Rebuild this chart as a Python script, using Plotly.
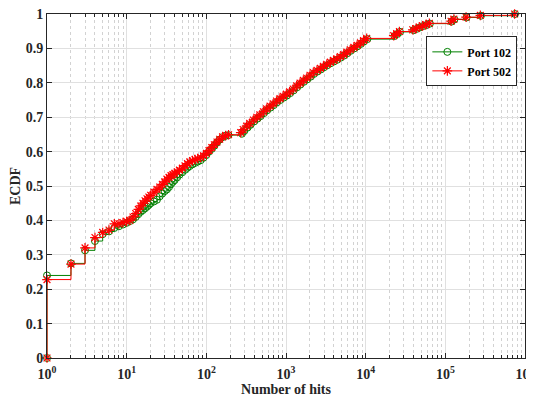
import plotly.graph_objects as go

# Port 102 ECDF (hits, ecdf)
port102_hits = [1, 1, 2, 3, 4, 5, 6, 7, 8, 9, 10, 11, 12, 13, 14, 15, 16, 17, 18, 19, 20,
                22, 24, 26, 28, 30, 32, 34, 36, 38, 40, 43, 46, 50, 54, 58, 62, 67, 72, 78,
                85, 92, 100, 108, 117, 126, 136, 147, 160, 175, 190, 280, 300, 330, 360,
                400, 440, 480, 530, 580, 640, 700, 770, 850, 940, 1030, 1130, 1250, 1380,
                1520, 1680, 1850, 2050, 2250, 2500, 2750, 3000, 3300, 3650, 4000, 4400,
                4850, 5350, 5900, 6500, 7200, 7900, 8700, 9500, 10500, 23000, 25000, 27000,
                40000, 44000, 48000, 53000, 58000, 64000, 120000, 130000, 185000, 280000,
                750000]
port102_ecdf = [0, 0.24, 0.275, 0.313, 0.34, 0.36, 0.368, 0.378, 0.383, 0.388, 0.393, 0.398,
                0.403, 0.41, 0.418, 0.425, 0.43, 0.435, 0.44, 0.445, 0.45, 0.455, 0.46, 0.47,
                0.478, 0.485, 0.49, 0.497, 0.505, 0.512, 0.517, 0.525, 0.533, 0.54, 0.547,
                0.553, 0.558, 0.563, 0.567, 0.571, 0.575, 0.582, 0.59, 0.6, 0.608, 0.617,
                0.626, 0.635, 0.642, 0.646, 0.648, 0.652, 0.66, 0.67, 0.678, 0.688, 0.696,
                0.703, 0.712, 0.72, 0.728, 0.735, 0.743, 0.75, 0.757, 0.763, 0.77, 0.778,
                0.787, 0.795, 0.803, 0.81, 0.818, 0.826, 0.833, 0.839, 0.845, 0.851, 0.857,
                0.862, 0.867, 0.873, 0.879, 0.886, 0.893, 0.9, 0.906, 0.913, 0.92, 0.927,
                0.936, 0.942, 0.948, 0.953, 0.957, 0.961, 0.965, 0.968, 0.972, 0.978, 0.984,
                0.99, 0.995, 1.0]

# Port 502 ECDF (hits, ecdf)
port502_hits = [1, 1, 2, 3, 4, 5, 6, 7, 8, 9, 10, 11, 12, 13, 14, 15, 16, 17, 18, 19, 20,
                22, 24, 26, 28, 30, 32, 34, 36, 38, 40, 43, 46, 50, 54, 58, 62, 67, 72, 78,
                85, 92, 100, 108, 117, 126, 136, 147, 160, 175, 190, 270, 290, 320, 350,
                390, 430, 470, 520, 570, 630, 690, 760, 840, 920, 1010, 1110, 1230, 1360,
                1500, 1650, 1820, 2000, 2200, 2450, 2700, 2950, 3250, 3600, 3950, 4350,
                4800, 5300, 5800, 6400, 7100, 7800, 8600, 9400, 10300, 22500, 24500, 26500,
                39000, 43000, 47000, 52000, 57000, 63000, 118000, 128000, 182000, 275000,
                740000]
port502_ecdf = [0, 0.228, 0.273, 0.32, 0.35, 0.365, 0.372, 0.39, 0.39, 0.394, 0.397, 0.4,
                0.41, 0.42, 0.432, 0.442, 0.45, 0.457, 0.463, 0.468, 0.473, 0.482, 0.49,
                0.497, 0.505, 0.512, 0.52, 0.525, 0.53, 0.533, 0.537, 0.541, 0.546, 0.552,
                0.559, 0.565, 0.57, 0.574, 0.577, 0.58, 0.583, 0.588, 0.595, 0.603, 0.612,
                0.62, 0.628, 0.636, 0.643, 0.647, 0.649, 0.655, 0.664, 0.674, 0.682, 0.692,
                0.7, 0.707, 0.716, 0.724, 0.732, 0.739, 0.747, 0.754, 0.761, 0.767, 0.774,
                0.782, 0.791, 0.799, 0.807, 0.814, 0.822, 0.83, 0.836, 0.842, 0.848, 0.854,
                0.86, 0.865, 0.87, 0.876, 0.882, 0.889, 0.896, 0.903, 0.909, 0.916, 0.923,
                0.929, 0.937, 0.943, 0.949, 0.954, 0.958, 0.962, 0.966, 0.969, 0.973, 0.979,
                0.985, 0.991, 0.996, 1.0]

series_names = ["<b>Port 102</b>", "<b>Port 502</b>"]

x_tickvals = [1, 10, 100, 1000, 10000, 100000, 1000000]
x_ticktext = ["<b>10<sup>0</sup></b>", "<b>10<sup>1</sup></b>", "<b>10<sup>2</sup></b>",
              "<b>10<sup>3</sup></b>", "<b>10<sup>4</sup></b>", "<b>10<sup>5</sup></b>",
              "<b>10<sup>6</sup></b>"]
y_tickvals = [0, 0.1, 0.2, 0.3, 0.4, 0.5, 0.6, 0.7, 0.8, 0.9, 1]
y_ticktext = ["<b>0</b>", "<b>0.1</b>", "<b>0.2</b>", "<b>0.3</b>", "<b>0.4</b>", "<b>0.5</b>",
              "<b>0.6</b>", "<b>0.7</b>", "<b>0.8</b>", "<b>0.9</b>", "<b>1</b>"]

minor_vals = [m * 10 ** d for d in range(6) for m in range(2, 10)]

FONT = "Liberation Serif, Times New Roman, serif"
AX = "#262626"

fig = go.Figure()
fig.add_trace(go.Scatter(
    x=port102_hits, y=port102_ecdf, name=series_names[0], mode="lines+markers",
    cliponaxis=False,
    line=dict(color="#008000", width=1, shape="hv"),
    marker=dict(symbol="circle-open", size=7, color="#008000", line=dict(width=1))))
fig.add_trace(go.Scatter(
    x=port502_hits, y=port502_ecdf, name=series_names[1], mode="lines+markers",
    cliponaxis=False,
    line=dict(color="#ff0000", width=1, shape="hv"),
    marker=dict(symbol="asterisk-open", size=8, color="#ff0000",
                line=dict(width=1.2, color="#ff0000"))))

# page body keeps an 8px default margin, so the figure is sized to fit inside it
fig.update_layout(
    width=526, height=390,
    margin=dict(l=39, r=9, t=6, b=40),
    paper_bgcolor="white", plot_bgcolor="white",
    font=dict(family=FONT, size=14, color=AX),
    legend=dict(x=0.984, y=0.935, xanchor="right", yanchor="top",
                bordercolor=AX, borderwidth=1, bgcolor="white",
                font=dict(family=FONT, size=12, color="black"),
                tracegroupgap=0, itemwidth=30),
    showlegend=True,
)
fig.update_xaxes(
    type="log", range=[0, 6], automargin=False,
    tickvals=x_tickvals, ticktext=x_ticktext,
    ticks="inside", ticklen=5, tickcolor=AX,
    ticklabeloverflow="allow", ticklabelstandoff=3,
    showline=True, linecolor=AX, linewidth=1, mirror="allticks",
    showgrid=True, gridcolor="#e0e0e0", gridwidth=1,
    zeroline=False,
    tickfont=dict(family=FONT, size=14, color=AX),
    minor=dict(tickvals=minor_vals, ticks="inside", ticklen=3, tickcolor=AX,
               showgrid=True, gridcolor="#d2d2d2", griddash="dot", gridwidth=1),
    title=dict(text="<b>Number of hits</b>", standoff=0,
               font=dict(family=FONT, size=14, color=AX)),
)
fig.update_yaxes(
    range=[0, 1], automargin=False,
    tickvals=y_tickvals, ticktext=y_ticktext,
    ticks="inside", ticklen=5, tickcolor=AX,
    ticklabeloverflow="allow",
    showline=True, linecolor=AX, linewidth=1, mirror="allticks",
    showgrid=True, gridcolor="#e0e0e0", gridwidth=1,
    zeroline=False,
    tickfont=dict(family=FONT, size=14, color=AX),
    title=dict(text="<b>ECDF</b>", standoff=3,
               font=dict(family=FONT, size=14, color=AX)),
)

fig.write_html("out.html")
